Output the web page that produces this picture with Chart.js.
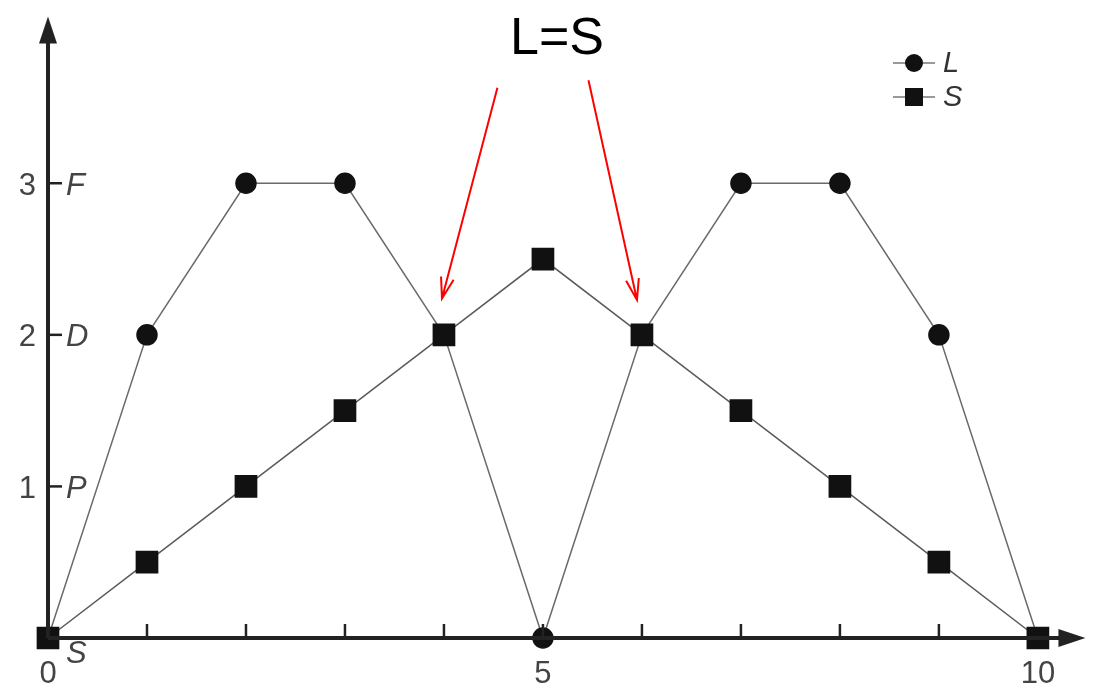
<!DOCTYPE html>
<html>
<head>
<meta charset="utf-8">
<script src="https://cdn.jsdelivr.net/npm/chart.js@4/dist/chart.umd.min.js"></script>
<style>
  html, body { margin: 0; padding: 0; background: #fff; overflow: hidden; }
</style>
</head>
<body>
<canvas id="phaseChart" width="1093" height="688"></canvas>
<script>
// donnees
const xValues = [0, 1, 2, 3, 4, 5, 6, 7, 8, 9, 10];
const lValues = [0, 2, 3, 3, 2, 0, 2, 3, 3, 2, 0];
const sValues = [0, 0.5, 1, 1.5, 2, 2.5, 2, 1.5, 1, 0.5, 0];
const xTickLabels = ["0", "5", "10"];
const xTickValues = [0, 5, 10];
const yTickValues = [1, 2, 3];
const yTickNumbers = ["1", "2", "3"];
const yTickLetters = ["P", "D", "F"];
const legendLabels = ["L", "S"];
const titleText = "L=S";
// fleches rouges (debut -> pointe) en coordonnees des donnees
const arrowStarts = [[4.54, 3.63], [5.46, 3.68]];
const arrowTips = [[3.98, 2.24], [5.95, 2.23]];

const toPoints = (ys) => ys.map((y, i) => ({ x: xValues[i], y: y }));

const axisPlugin = {
  id: "axisPlugin",
  afterDatasetsDraw(chart) {
    const ctx = chart.ctx;
    const xs = chart.scales.x;
    const ys = chart.scales.y;
    const x0 = xs.getPixelForValue(0);
    const y0 = ys.getPixelForValue(0);
    const xEnd = xs.getPixelForValue(10.48);
    const yEnd = ys.getPixelForValue(4.1);
    ctx.save();
    ctx.strokeStyle = "#222";
    ctx.fillStyle = "#222";
    ctx.lineWidth = 4;
    // axe x
    ctx.beginPath();
    ctx.moveTo(x0, y0);
    ctx.lineTo(xEnd - 20, y0);
    ctx.stroke();
    ctx.beginPath();
    ctx.moveTo(xEnd, y0);
    ctx.lineTo(xEnd - 27, y0 - 9);
    ctx.lineTo(xEnd - 27, y0 + 9);
    ctx.closePath();
    ctx.fill();
    // axe y
    ctx.beginPath();
    ctx.moveTo(x0, y0);
    ctx.lineTo(x0, yEnd + 20);
    ctx.stroke();
    ctx.beginPath();
    ctx.moveTo(x0, yEnd);
    ctx.lineTo(x0 - 9, yEnd + 27);
    ctx.lineTo(x0 + 9, yEnd + 27);
    ctx.closePath();
    ctx.fill();
    // graduations x
    ctx.lineWidth = 2.5;
    for (let i = 1; i < 10; i++) {
      const px = xs.getPixelForValue(i);
      ctx.beginPath();
      ctx.moveTo(px, y0);
      ctx.lineTo(px, y0 - 14);
      ctx.stroke();
    }
    // graduations y
    yTickValues.forEach((v) => {
      const py = ys.getPixelForValue(v);
      ctx.beginPath();
      ctx.moveTo(x0, py);
      ctx.lineTo(x0 + 14, py);
      ctx.stroke();
    });
    // etiquettes
    ctx.fillStyle = "#444";
    ctx.font = "31px 'Liberation Sans', Arial, sans-serif";
    ctx.textAlign = "center";
    ctx.textBaseline = "middle";
    xTickValues.forEach((v, i) => {
      ctx.fillText(xTickLabels[i], xs.getPixelForValue(v), y0 + 36);
    });
    ctx.textAlign = "right";
    yTickValues.forEach((v, i) => {
      ctx.fillText(yTickNumbers[i], x0 - 12, ys.getPixelForValue(v) + 3);
    });
    ctx.font = "italic 31px 'Liberation Sans', Arial, sans-serif";
    ctx.textAlign = "left";
    yTickValues.forEach((v, i) => {
      ctx.fillText(yTickLetters[i], x0 + 18, ys.getPixelForValue(v) + 3);
    });
    ctx.fillText("S", x0 + 18, y0 + 16);
    // legende
    const lx = 914;
    [63, 97].forEach((ly, i) => {
      ctx.strokeStyle = "#777";
      ctx.lineWidth = 1.5;
      ctx.beginPath();
      ctx.moveTo(lx - 21, ly);
      ctx.lineTo(lx + 21, ly);
      ctx.stroke();
      ctx.fillStyle = "#111";
      if (i === 0) {
        ctx.beginPath();
        ctx.arc(lx, ly, 9, 0, Math.PI * 2);
        ctx.fill();
      } else {
        ctx.fillRect(lx - 9, ly - 9, 18, 18);
      }
      ctx.fillStyle = "#333";
      ctx.font = "italic 29px 'Liberation Sans', Arial, sans-serif";
      ctx.fillText(legendLabels[i], lx + 29, ly + 1);
    });
    // titre
    ctx.fillStyle = "#000";
    ctx.textAlign = "center";
    ctx.font = "52px 'Liberation Sans', Arial, sans-serif";
    ctx.fillText(titleText, 557, 40);
    // fleches rouges
    ctx.strokeStyle = "#ff0000";
    ctx.lineWidth = 2;
    arrowStarts.forEach((s, i) => {
      const sx = xs.getPixelForValue(s[0]);
      const sy = ys.getPixelForValue(s[1]);
      const tx = xs.getPixelForValue(arrowTips[i][0]);
      const ty = ys.getPixelForValue(arrowTips[i][1]);
      const ang = Math.atan2(ty - sy, tx - sx);
      ctx.beginPath();
      ctx.moveTo(sx, sy);
      ctx.lineTo(tx, ty);
      ctx.moveTo(tx - 22 * Math.cos(ang - 0.3), ty - 22 * Math.sin(ang - 0.3));
      ctx.lineTo(tx, ty);
      ctx.lineTo(tx - 22 * Math.cos(ang + 0.3), ty - 22 * Math.sin(ang + 0.3));
      ctx.stroke();
    });
    ctx.restore();
  },
};

const ctx = document.getElementById("phaseChart").getContext("2d");
new Chart(ctx, {
  type: "line",
  data: {
    datasets: [
      {
        label: legendLabels[0],
        data: toPoints(lValues),
        borderColor: "#6a6a6a",
        borderWidth: 1.5,
        pointStyle: "circle",
        pointRadius: 10,
        pointBackgroundColor: "#111",
        pointBorderColor: "#111",
        clip: false,
        order: 2,
      },
      {
        label: legendLabels[1],
        data: toPoints(sValues),
        borderColor: "#5a5a5a",
        borderWidth: 1.5,
        pointStyle: "rect",
        pointRadius: 15,
        pointBackgroundColor: "#111",
        pointBorderColor: "#111",
        clip: false,
        order: 1,
      },
    ],
  },
  options: {
    responsive: false,
    animation: false,
    layout: { padding: { left: 48, right: 3, top: 15, bottom: 50 } },
    plugins: { legend: { display: false }, tooltip: { enabled: false } },
    scales: {
      x: { type: "linear", min: 0, max: 10.39, display: false },
      y: { type: "linear", min: 0, max: 4.1, display: false },
    },
  },
  plugins: [axisPlugin],
});
</script>
</body>
</html>
